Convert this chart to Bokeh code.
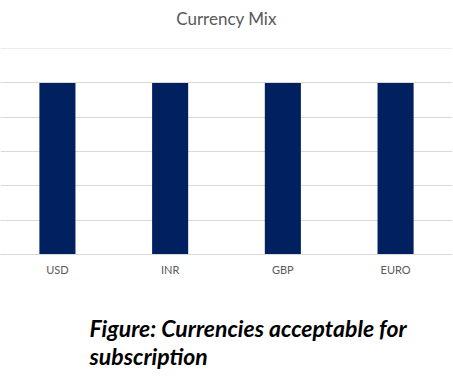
from bokeh.plotting import figure
from bokeh.models import FactorRange, Range1d, FixedTicker, ColumnDataSource
from bokeh.core.properties import value
from bokeh.layouts import column
from bokeh.embed import file_html
from bokeh.resources import INLINE

currencies = ["USD", "INR", "GBP", "EURO"]
accepted = [1, 1, 1, 1]
y_ticks = [0, 0.2, 0.4, 0.6, 0.8, 1.0, 1.2]
chart_title = "Currency Mix"
caption_lines = ["Figure: Currencies acceptable for", "subscription"]

W = 452

# title panel
head_h = 40
h = figure(
    width=W, height=head_h,
    x_range=Range1d(0, W), y_range=Range1d(0, head_h),
    output_backend="svg", toolbar_location=None,
    min_border=0, outline_line_color=None,
)
h.axis.visible = False
h.grid.visible = False
head_src = ColumnDataSource(data=dict(x=[W / 2], y=[head_h - 17.5], text=[chart_title]))
h.text(x="x", y="y", text="text", source=head_src,
       text_font=value("Lato"), text_font_size=value("17px"),
       text_font_style=value("normal"),
       text_color="#595959", text_align="center", text_baseline="middle")

# chart
source = ColumnDataSource(data=dict(currency=currencies, accepted=accepted))
p = figure(
    width=W, height=240,
    x_range=FactorRange(factors=currencies, range_padding=0.005, range_padding_units="absolute"),
    y_range=Range1d(0, 1.2006),
    output_backend="svg", toolbar_location=None,
    min_border_left=0, min_border_right=0, min_border_top=8, min_border_bottom=26,
    outline_line_color=None,
)
p.vbar(x="currency", top="accepted", width=0.32, source=source,
       fill_color="#002060", line_color=None)

p.yaxis.visible = False
p.ygrid.ticker = FixedTicker(ticks=y_ticks)
p.ygrid.grid_line_color = "#d9d9d9"
p.xgrid.grid_line_color = None

ax = p.xaxis[0]
ax.axis_line_color = "#d9d9d9"
ax.major_tick_line_color = None
ax.minor_tick_line_color = None
ax.major_label_text_color = "#595959"
ax.major_label_text_font = "Lato"
ax.major_label_text_font_size = "11px"
ax.major_label_standoff = 2

# caption panel below the chart
cap_h = 96
c = figure(
    width=W, height=cap_h,
    x_range=Range1d(0, W), y_range=Range1d(0, cap_h),
    output_backend="svg", toolbar_location=None,
    min_border=0, outline_line_color=None,
)
c.axis.visible = False
c.grid.visible = False
cap_src = ColumnDataSource(data=dict(x=[89, 89], y=[cap_h - 47, cap_h - 75], text=caption_lines))
c.text(x="x", y="y", text="text", source=cap_src,
       text_font=value("Lato"), text_font_size=value("23px"),
       text_font_style=value("bold italic"),
       text_color="#000000", text_align="left", text_baseline="middle")

layout = column(h, p, c, spacing=0)

open("out.html", "w").write(file_html(layout, INLINE))
